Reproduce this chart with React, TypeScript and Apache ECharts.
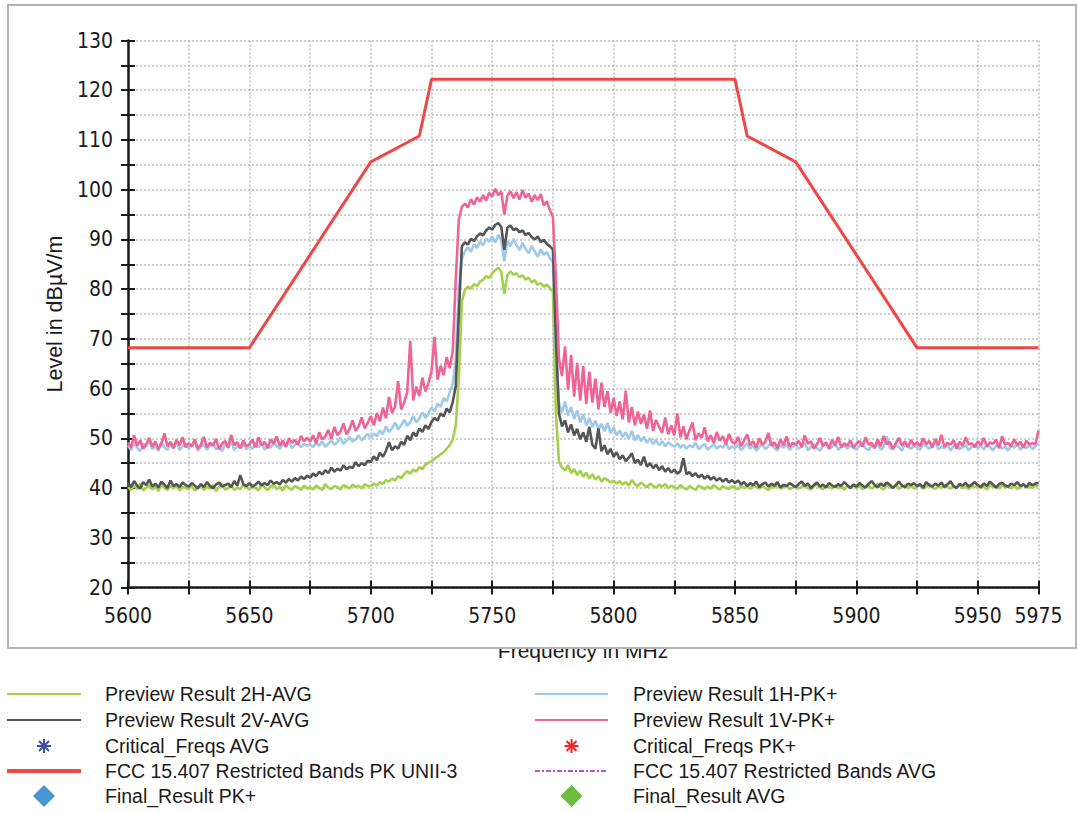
import React, { useEffect, useRef } from "react";
import * as echarts from "echarts";

// Frequency sampling grid (MHz)
const FREQ_START = 5600;
const FREQ_STEP = 1.25;

// Preview Result 2H-AVG (green)
const avg2H = [
  40.2, 39.6, 40.5, 39.8, 40.9, 39.5, 40.1, 40.6, 39.7, 40.3, 39.4, 40.8, 40.0, 39.6, 40.4, 39.9, 40.7, 39.5, 40.2, 40.0,
  39.8, 40.4, 39.5, 40.1, 40.7, 39.6, 40.3, 39.9, 40.6, 39.4, 40.2, 40.8, 39.7, 40.0, 40.5, 39.6, 40.1, 39.8, 40.6, 40.2,
  39.7, 40.4, 40.0, 39.5, 40.9, 40.1, 39.6, 40.3, 40.7, 39.8, 40.2, 39.5, 40.6, 40.0, 39.7, 40.4, 40.1, 39.6, 40.5, 39.9,
  40.2, 39.7, 40.5, 40.0, 39.6, 40.8, 40.1, 39.8, 40.4, 40.2, 39.7, 40.6, 40.3, 39.9, 40.7, 40.2, 40.5, 39.9, 40.8, 40.4,
  40.4, 40.9, 40.5, 41.2, 40.8, 41.6, 41.3, 41.9, 41.5, 42.4, 42.0, 42.8, 43.4, 42.9, 43.7, 43.3, 44.2, 43.8, 44.7, 45.1,
  45.4, 45.9, 46.3, 46.8, 47.2, 47.9, 48.6, 49.8, 52.5, 62.0, 77.5, 79.8, 80.5, 80.1, 81.0, 80.6, 81.5, 81.9, 82.6, 82.2,
  83.2, 83.8, 84.3, 83.5, 79.0, 82.8, 83.6, 82.9, 83.2, 82.4, 82.8, 81.9, 82.3, 81.4, 81.8, 80.9, 81.2, 80.5, 80.9, 80.2,
  79.5, 55.0, 45.2, 44.1, 43.5, 44.6, 43.0, 43.8, 42.6, 43.5, 42.3, 43.1, 41.9, 42.8, 41.7, 42.4, 41.3, 42.0, 41.6, 41.1,
  41.5, 40.9, 41.4, 40.7, 41.2, 40.5, 41.6, 40.8, 40.4, 41.1, 40.6, 40.2, 40.9, 40.5, 40.1, 40.7, 40.3, 40.8, 40.0, 40.5,
  40.2, 39.8, 40.6, 40.1, 39.7, 40.4, 40.0, 39.6, 40.5, 40.2, 39.8, 40.3, 39.9, 40.6, 40.1, 39.7, 40.4, 40.0, 39.8, 40.3,
  40.1, 39.7, 40.5, 40.0, 40.3, 39.8, 40.6, 40.2, 39.9, 40.4, 40.0, 39.6, 40.3, 40.1, 40.7, 39.9, 40.2, 40.5, 39.8, 40.1,
  40.4, 39.9, 40.2, 40.6, 40.0, 39.7, 40.3, 40.8, 40.1, 39.8, 40.5, 40.2, 39.9, 40.6, 40.0, 40.3, 39.7, 40.4, 40.1, 40.7,
  40.0, 40.4, 39.8, 40.2, 40.6, 39.9, 40.3, 40.9, 40.1, 39.7, 40.5, 40.2, 40.0, 40.7, 39.8, 40.3, 40.5, 40.0, 40.4, 39.9,
  40.3, 40.6, 39.9, 40.2, 40.8, 40.1, 39.8, 40.4, 40.0, 40.6, 40.2, 39.9, 40.5, 40.1, 40.7, 40.0, 40.3, 39.8, 40.4, 40.2,
  40.5, 40.0, 40.3, 39.7, 40.6, 40.2, 40.4, 39.9, 40.7, 40.1, 40.3, 40.0, 40.5, 39.8, 40.2, 40.6, 40.1, 40.4, 40.0, 40.5,
  40.3,
];

// Preview Result 2V-AVG (dark gray)
const avg2V = [
  41.0, 40.2, 41.4, 40.5, 39.9, 41.2, 40.6, 41.7, 40.3, 40.9, 40.1, 41.3, 40.7, 40.0, 41.5, 40.4, 40.8, 40.2, 41.1, 40.6,
  40.3, 41.0, 40.5, 39.9, 40.8, 40.2, 41.2, 40.4, 40.0, 40.7, 41.1, 40.3, 40.6, 40.9, 40.2, 41.4, 40.5, 42.6, 40.8, 40.4,
  41.0, 40.3, 40.7, 41.3, 40.5, 41.0, 40.6, 41.5, 40.9, 41.2, 40.7, 41.6, 41.1, 41.8, 41.3, 42.0, 41.5, 42.3, 41.8, 42.5,
  42.1, 42.9, 42.4, 43.3, 42.7, 43.6, 43.0, 44.1, 43.3, 43.9, 43.5, 44.6, 43.8, 44.3, 44.0, 45.2, 44.4, 45.0, 44.6, 45.5,
  45.2, 46.4, 45.6, 47.1, 46.3, 47.5, 49.2, 47.6, 48.4, 47.9, 49.3, 48.7, 50.5, 49.6, 51.2, 50.4, 52.0, 51.3, 52.6, 51.9,
  53.3, 54.1, 53.6, 55.0, 54.4, 56.0, 55.2, 57.3, 60.5, 75.0, 88.6, 89.4, 89.0, 90.1, 89.7, 90.6, 91.2, 90.8, 91.8, 92.4,
  92.0, 92.9, 93.3, 92.5, 87.9, 92.4, 92.8, 91.9, 92.2, 91.4, 91.8, 90.9, 91.3, 90.5, 90.0, 90.6, 89.5, 89.9, 89.1, 88.6,
  88.0, 70.0, 55.0, 52.4, 53.6, 51.2, 52.8, 50.6, 51.9, 49.8, 51.2, 49.3, 52.3, 48.7, 47.9, 52.0, 47.4, 48.6, 46.8, 47.9,
  46.3, 47.2, 45.8, 46.6, 45.4, 46.1, 47.0, 45.0, 45.7, 44.6, 46.3, 44.3, 45.0, 44.0, 44.7, 43.6, 44.4, 43.3, 44.0, 43.1,
  43.7, 42.9, 43.4, 46.0, 42.8, 43.2, 42.4, 43.0, 42.1, 42.7, 41.9, 42.5, 41.7, 42.2, 41.5, 42.0, 41.3, 41.9, 41.1, 41.6,
  41.0, 41.5, 40.7, 41.2, 40.4, 41.0, 40.6, 41.3, 40.2, 40.8, 41.1, 40.3, 40.9, 40.5, 41.2, 40.1, 40.7, 40.4, 41.0, 40.6,
  40.2, 40.8, 41.3, 40.4, 40.9, 40.0, 40.6, 41.1, 40.3, 40.7, 40.1, 41.0, 40.5, 40.2, 40.8, 40.4, 41.2, 40.6, 40.0, 40.7,
  40.3, 41.0, 40.5, 40.1, 40.8, 41.4, 40.6, 40.2, 40.9, 40.4, 41.1, 40.7, 40.0, 40.6, 41.3, 40.5, 40.2, 40.9, 40.6, 41.0,
  40.4, 40.8, 40.1, 41.2, 40.6, 40.3, 40.9, 40.5, 41.1, 40.2, 40.7, 41.4, 40.4, 40.0, 40.8, 40.5, 41.0, 40.3, 40.7, 41.2,
  40.6, 40.2, 40.9, 40.4, 41.3, 40.7, 40.1, 40.8, 41.1, 40.5, 40.3, 40.9, 40.6, 41.2, 40.4, 40.8, 40.2, 41.0, 40.6, 40.9,
  41.0,
];

// Preview Result 1H-PK+ (light blue)
const pk1H = [
  48.6, 47.6, 49.2, 48.1, 47.4, 48.9, 48.3, 49.6, 47.8, 48.5, 47.5, 49.1, 48.2, 47.7, 48.8, 48.0, 49.4, 47.6, 48.4, 48.9,
  47.9, 48.6, 49.3, 47.5, 48.2, 48.8, 47.7, 48.5, 49.0, 47.8, 48.3, 47.4, 48.9, 48.1, 49.5, 47.6, 48.4, 48.0, 48.7, 47.8,
  48.5, 47.9, 48.8, 48.2, 49.1, 47.7, 48.6, 48.1, 49.0, 48.4, 47.9, 48.9, 48.3, 49.3, 48.0, 48.7, 49.1, 48.2, 48.9, 48.5,
  48.8, 48.2, 49.1, 48.5, 49.4, 48.3, 48.9, 49.6, 48.7, 49.2, 50.1, 48.9, 49.5, 50.2, 49.3, 49.8, 50.6, 49.6, 50.3, 50.9,
  50.1, 51.0, 50.4, 51.6, 50.8, 52.4, 51.3, 52.0, 53.2, 51.8, 52.6, 53.7, 52.5, 53.3, 54.5, 53.2, 54.0, 55.2, 54.1, 55.0,
  56.2, 55.4, 57.0, 56.3, 58.1, 57.4, 59.2, 61.0, 66.0, 80.0, 86.0, 87.6, 88.4, 87.5, 89.0, 88.3, 89.6, 88.8, 90.2, 89.5,
  90.6, 89.4, 90.9, 89.8, 85.6, 89.7, 88.6, 90.1, 88.9, 87.8, 89.3, 88.1, 87.2, 88.7, 87.6, 86.5, 88.0, 86.9, 87.5, 86.2,
  85.5, 68.0, 57.0, 55.2, 57.4, 54.6, 56.3, 53.9, 55.6, 53.2, 54.8, 52.6, 54.1, 52.3, 53.5, 51.8, 52.9, 51.4, 53.1, 51.0,
  52.2, 50.6, 51.6, 50.3, 51.2, 49.9, 51.5, 49.6, 50.7, 49.4, 50.3, 49.1, 50.0, 48.8, 49.7, 48.6, 49.4, 48.4, 49.2, 48.7,
  48.3, 49.0, 48.1, 48.7, 47.9, 48.6, 48.2, 49.1, 47.8, 48.4, 48.9, 47.7, 48.3, 48.8, 47.9, 48.5, 48.1, 49.2, 47.8, 48.4,
  48.0, 48.8, 47.6, 48.3, 49.0, 47.9, 48.5, 47.5, 48.2, 48.9, 47.8, 48.4, 49.3, 48.0, 47.6, 48.6, 48.1, 48.8, 47.7, 48.3,
  48.7, 47.9, 48.4, 49.1, 47.6, 48.2, 48.8, 48.0, 47.5, 48.6, 49.0, 47.8, 48.3, 48.9, 47.7, 48.2, 48.6, 47.9, 48.5, 48.1,
  47.8, 48.4, 49.2, 48.0, 47.6, 48.7, 48.2, 48.9, 47.7, 48.3, 50.4, 48.1, 47.8, 48.6, 48.2, 47.5, 48.8, 48.3, 47.9, 48.5,
  48.2, 47.7, 48.9, 48.4, 47.9, 48.6, 49.4, 47.8, 48.3, 48.0, 48.7, 47.5, 48.4, 48.9, 47.8, 48.2, 48.6, 47.6, 48.3, 48.8,
  48.0, 48.5, 47.7, 48.9, 48.2, 47.6, 48.4, 48.8, 47.9, 48.3, 47.5, 48.6, 48.1, 48.9, 47.7, 48.4, 48.0, 48.6, 47.8, 48.4,
  49.0,
];

// Preview Result 1V-PK+ (pink)
const pk1V = [
  49.2, 48.1, 50.6, 48.5, 49.6, 47.9, 48.8, 50.1, 48.3, 49.4, 47.8, 49.0, 51.0, 48.4, 49.3, 48.0, 49.7, 48.6, 50.2, 48.2,
  49.0, 48.4, 49.8, 47.9, 48.7, 50.3, 48.2, 49.1, 48.5, 49.9, 47.8, 48.9, 49.5, 48.1, 50.7, 48.6, 49.2, 48.0, 49.6, 48.4,
  48.8, 49.7, 48.2, 50.2, 48.6, 49.3, 48.0, 49.8, 48.9, 50.4, 48.5, 49.6, 48.3, 50.0, 49.1, 49.7, 48.7, 50.5, 49.4, 50.1,
  49.3, 50.6, 49.0, 51.2, 49.8, 50.4, 51.7, 49.9, 52.3, 50.6, 51.4, 53.0, 50.8, 51.9, 53.6, 51.5, 52.4, 54.2, 52.0, 53.1,
  54.5, 52.6, 55.1, 53.4, 56.2, 54.0, 58.3, 55.1, 56.4, 61.5, 55.8, 57.2, 59.3, 69.6, 57.6, 60.4, 58.5, 62.2, 59.4, 61.1,
  63.4, 70.4, 61.8, 64.6, 62.7, 66.3, 64.1, 67.5, 82.0, 94.0, 96.5, 97.2, 96.4, 98.1, 97.0, 98.5, 97.6, 98.9, 97.8, 99.4,
  98.6, 100.2, 98.9, 99.6, 95.0, 98.8, 99.7, 98.3, 99.5, 98.0, 99.9, 98.4, 99.2, 97.6, 98.9, 97.9, 99.1, 96.8, 97.7, 95.9,
  94.5, 82.0, 66.0, 62.5, 68.5, 59.8, 66.8, 58.4, 65.2, 57.6, 64.5, 56.9, 63.4, 57.2, 62.0, 55.8, 61.2, 56.3, 59.5, 55.1,
  58.1, 54.5, 57.4, 53.8, 59.6, 53.2, 56.3, 52.6, 55.4, 52.9, 54.8, 51.9, 55.6, 51.5, 53.7, 52.3, 51.1, 54.2, 50.8, 52.6,
  50.6, 55.0, 50.2, 52.4, 49.8, 51.6, 53.2, 49.6, 51.0, 50.1, 52.2, 49.4, 50.6, 49.1, 51.3, 49.5, 50.4, 48.8, 50.9, 49.3,
  48.9, 50.3, 48.4, 49.6, 50.8, 48.6, 49.4, 48.1, 50.0, 48.7, 49.3, 51.1, 48.5, 49.2, 48.0, 49.8, 48.6, 50.4, 48.3, 49.1,
  48.7, 49.5, 48.2, 50.6, 48.9, 49.4, 47.9, 48.8, 50.1, 48.4, 49.2, 48.0, 49.7, 48.6, 50.3, 48.2, 49.0, 48.5, 49.6, 48.1,
  48.9, 49.5, 48.3, 50.2, 48.7, 49.1, 48.0, 49.8, 48.4, 50.5, 48.8, 49.3, 47.9, 49.0, 50.1, 48.5, 49.4, 48.2, 49.7, 48.6,
  49.2, 48.4, 50.0, 48.8, 49.5, 48.1, 49.9, 48.6, 50.7, 48.3, 49.1, 48.7, 49.6, 47.9, 49.3, 48.5, 50.2, 48.8, 49.0, 48.2,
  49.4, 48.6, 50.1, 48.3, 49.2, 48.9, 49.7, 48.0, 50.4, 48.7, 49.1, 48.4, 49.8, 48.6, 49.3, 48.1, 49.5, 48.8, 49.0, 48.9,
  51.6,
];

// FCC 15.407 Restricted Bands PK UNII-3 limit line
const limitFreqs = [5600, 5650, 5700, 5720, 5725, 5850, 5855, 5875, 5925, 5975];
const limitPK = [68.2, 68.2, 105.6, 110.8, 122.2, 122.2, 110.8, 105.6, 68.2, 68.2];

// Axis ranges
const X_MIN = 5600;
const X_MAX = 5975;
const X_TICK = 25;
const X_LABEL_STEP = 50;
const Y_MIN = 20;
const Y_MAX = 130;
const Y_TICK = 10;

// Legend entries (two columns, row-major)
const legendNames = [
  "Preview Result 2H-AVG",
  "Preview Result 1H-PK+",
  "Preview Result 2V-AVG",
  "Preview Result 1V-PK+",
  "Critical_Freqs AVG",
  "Critical_Freqs PK+",
  "FCC 15.407 Restricted Bands PK UNII-3",
  "FCC 15.407 Restricted Bands AVG",
  "Final_Result PK+",
  "Final_Result AVG",
];
const legendKinds = ["line", "line", "line", "line", "star", "star", "thick", "dashdot", "diamond", "diamond"];
const legendColors = [
  "#a6cf4c", "#9fc9ea", "#555555", "#ef6495", "#3a4ea0", "#ec2424",
  "#ef4646", "#c44fbc", "#4a97d5", "#6cbd3e",
];

const COLORS = {
  green: "#a6cf4c",
  blue: "#9fc9ea",
  gray: "#555555",
  pink: "#ef6495",
  red: "#ef4646",
};

const NARROW = "'Liberation Sans Narrow', 'DejaVu Sans Condensed', 'Liberation Sans', sans-serif";
const SANS = "'Liberation Sans', Arial, sans-serif";

function toPairs(values: number[]) {
  return values.map((v, i) => [FREQ_START + i * FREQ_STEP, v]);
}

function buildLegend() {
  const rowsY = [694, 720, 746, 771, 796];
  const els: any[] = [];
  legendNames.forEach((name, i) => {
    const col = i % 2;
    const row = Math.floor(i / 2);
    const x0 = col ? 535 : 7;
    const x1 = col ? 608 : 81;
    const cx = (x0 + x1) / 2;
    const y = rowsY[row];
    const textX = col ? 633 : 105;
    const kind = legendKinds[i];
    const color = legendColors[i];
    if (kind === "line" || kind === "thick" || kind === "dashdot") {
      els.push({
        type: "line",
        shape: { x1: x0, y1: y, x2: x1, y2: y },
        style: {
          stroke: color,
          lineWidth: kind === "thick" ? 4 : 2,
          lineDash: kind === "dashdot" ? [5, 2, 2, 2] : null,
        },
      });
    } else if (kind === "star") {
      const r = 7;
      const d = 5;
      const segs = [
        [cx, y - r, cx, y + r],
        [cx - r, y, cx + r, y],
        [cx - d, y - d, cx + d, y + d],
        [cx - d, y + d, cx + d, y - d],
      ];
      segs.forEach((s) =>
        els.push({
          type: "line",
          shape: { x1: s[0], y1: s[1], x2: s[2], y2: s[3] },
          style: { stroke: color, lineWidth: 2 },
        })
      );
    } else if (kind === "diamond") {
      const r = 11;
      els.push({
        type: "polygon",
        shape: { points: [[cx, y - r], [cx + r, y], [cx, y + r], [cx - r, y]] },
        style: { fill: color },
      });
    }
    els.push({
      type: "text",
      x: textX,
      y: y,
      style: {
        text: name,
        fill: "#1a1a1a",
        font: `19.5px ${SANS}`,
        textVerticalAlign: "middle",
        verticalAlign: "middle",
      },
    });
  });
  return els;
}

export default function App() {
  const ref = useRef<HTMLDivElement>(null);

  useEffect(() => {
    if (!ref.current) return;
    const chart = echarts.init(ref.current, undefined, { renderer: "svg" });

    const axisColor = "#1a1a1a";
    const gridLine = { type: [2, 2] as any, color: "#bdbdbd", width: 1.5 };

    const option: any = {
      animation: false,
      backgroundColor: "#ffffff",
      grid: { left: 128, right: 38.5, top: 40.5, bottom: 225.5 },
      xAxis: [
        {
          type: "value",
          min: X_MIN,
          max: X_MAX,
          interval: X_TICK,
          position: "bottom",
          axisLine: { show: true, onZero: false, lineStyle: { color: axisColor, width: 2.5 } },
          axisTick: { show: true, inside: false, length: 7, lineStyle: { color: axisColor, width: 2 } },
          axisLabel: {
            margin: 18,
            color: axisColor,
            fontFamily: NARROW,
            fontSize: 21,
            formatter: (v: number) =>
              (v - X_MIN) % X_LABEL_STEP === 0 || v === X_MAX ? String(v) : "",
          },
          splitLine: { show: true, lineStyle: gridLine },
        },
        {
          type: "value",
          min: X_MIN,
          max: X_MAX,
          interval: X_TICK,
          position: "bottom",
          axisLine: { show: false, onZero: false },
          axisTick: { show: true, inside: true, length: 7, lineStyle: { color: axisColor, width: 2 } },
          axisLabel: { show: false },
          splitLine: { show: false },
        },
      ],
      yAxis: [
        {
          type: "value",
          min: Y_MIN,
          max: Y_MAX,
          interval: Y_TICK,
          position: "left",
          name: "Level in dBµV/m",
          nameLocation: "middle",
          nameGap: 58,
          nameTextStyle: { fontFamily: SANS, fontSize: 21.5, color: axisColor },
          axisLine: { show: true, onZero: false, lineStyle: { color: axisColor, width: 2.5 } },
          axisTick: { show: true, inside: false, length: 7, lineStyle: { color: axisColor, width: 2 } },
          minorTick: { show: true, splitNumber: 2, length: 7, lineStyle: { color: axisColor, width: 2 } },
          axisLabel: { margin: 15, color: axisColor, fontFamily: NARROW, fontSize: 21 },
          splitLine: { show: true, lineStyle: gridLine },
          minorSplitLine: { show: true, lineStyle: gridLine },
        },
        {
          type: "value",
          min: Y_MIN,
          max: Y_MAX,
          interval: Y_TICK,
          position: "left",
          axisLine: { show: false, onZero: false },
          axisTick: { show: true, inside: true, length: 7, lineStyle: { color: axisColor, width: 2 } },
          minorTick: { show: true, splitNumber: 2, length: 7, lineStyle: { color: axisColor, width: 2 } },
          axisLabel: { show: false },
          splitLine: { show: false },
        },
      ],
      series: [
        {
          name: "Preview Result 2H-AVG",
          type: "line",
          data: toPairs(avg2H),
          showSymbol: false,
          symbol: "none",
          lineStyle: { color: COLORS.green, width: 2.6 },
          z: 2,
        },
        {
          name: "Preview Result 1H-PK+",
          type: "line",
          data: toPairs(pk1H),
          showSymbol: false,
          symbol: "none",
          lineStyle: { color: COLORS.blue, width: 2.6 },
          z: 3,
        },
        {
          name: "Preview Result 2V-AVG",
          type: "line",
          data: toPairs(avg2V),
          showSymbol: false,
          symbol: "none",
          lineStyle: { color: COLORS.gray, width: 2.6 },
          z: 4,
        },
        {
          name: "Preview Result 1V-PK+",
          type: "line",
          data: toPairs(pk1V),
          showSymbol: false,
          symbol: "none",
          lineStyle: { color: COLORS.pink, width: 2.6 },
          z: 5,
        },
        {
          name: "FCC 15.407 Restricted Bands PK UNII-3",
          type: "line",
          data: limitFreqs.map((f, i) => [f, limitPK[i]]),
          showSymbol: false,
          symbol: "none",
          lineStyle: { color: COLORS.red, width: 3 },
          z: 6,
        },
        { name: "FCC 15.407 Restricted Bands AVG", type: "line", data: [], symbol: "none" },
        { name: "Critical_Freqs AVG", type: "scatter", data: [] },
        { name: "Critical_Freqs PK+", type: "scatter", data: [] },
        { name: "Final_Result PK+", type: "scatter", data: [] },
        { name: "Final_Result AVG", type: "scatter", data: [] },
      ],
      graphic: [
        {
          type: "text",
          x: 583,
          y: 640,
          z: 10,
          style: {
            text: "Frequency in MHz",
            fill: axisColor,
            font: `21px ${SANS}`,
            textAlign: "center",
            align: "center",
            textVerticalAlign: "top",
            verticalAlign: "top",
          },
        },
        {
          type: "rect",
          z: 11,
          shape: { x: 300, y: 632, width: 560, height: 17 },
          style: { fill: "#ffffff" },
        },
        {
          type: "rect",
          z: 12,
          shape: { x: 8, y: 5, width: 1068, height: 643 },
          style: { fill: "none", stroke: "#b3b3b3", lineWidth: 2 },
        },
        ...buildLegend(),
      ],
    };

    chart.setOption(option);
    return () => chart.dispose();
  }, []);

  return (
    <div
      ref={ref}
      style={{ position: "absolute", left: 0, top: 0, width: 1077, height: 813, background: "#fff" }}
    />
  );
}
